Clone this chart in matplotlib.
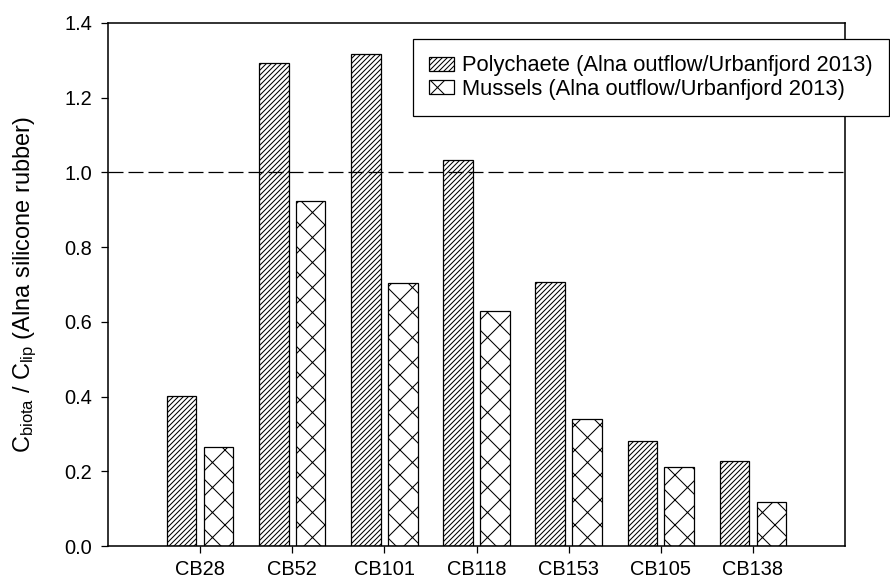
import numpy as np
import matplotlib
matplotlib.use("Agg")
import matplotlib.pyplot as plt

plt.rcParams["font.family"] = ["Liberation Sans", "DejaVu Sans"]
plt.rcParams["mathtext.default"] = "regular"
plt.rcParams["hatch.linewidth"] = 0.5

congeners = ["CB28", "CB52", "CB101", "CB118", "CB153", "CB105", "CB138"]
polychaete = [0.401, 1.292, 1.318, 1.033, 0.708, 0.281, 0.228]
mussels = [0.265, 0.924, 0.705, 0.630, 0.341, 0.211, 0.119]

lab_poly = "Polychaete (Alna outflow/Urbanfjord 2013)"
lab_mus = "Mussels (Alna outflow/Urbanfjord 2013)"

fig = plt.figure(figsize=(890 / 150, 583 / 150), dpi=150)
ax = fig.add_axes([108 / 890, 1 - 546 / 583, (845 - 108) / 890, (546 - 23) / 583])

x = np.arange(len(congeners))
w = 0.32
ax.bar(x - 0.2, polychaete, w, facecolor="white", edgecolor="black",
       linewidth=0.6, hatch="//////////", label=lab_poly)
ax.bar(x + 0.2, mussels, w, facecolor="white", edgecolor="black",
       linewidth=0.6, hatch="xx", label=lab_mus)

ax.axhline(1.0, color="black", linewidth=0.6, linestyle=(0, (12, 4)))

ax.set_xlim(-1, 7)
ax.set_ylim(0, 1.4)
ax.set_xticks(x)
ax.set_xticklabels(congeners)
yt = np.arange(0, 1.41, 0.2)
ax.set_yticks(yt)
ax.set_yticklabels([f"{v:.1f}" for v in yt])
ax.tick_params(axis="both", direction="out", length=3.5, width=0.6,
               labelsize=9.6, top=False, right=False)
ax.tick_params(axis="x", pad=3.2)
ax.tick_params(axis="y", pad=4)
for s in ax.spines.values():
    s.set_linewidth(0.75)

ax.set_ylabel("C$_{biota}$ / C$_{lip}$ (Alna silicone rubber)", fontsize=11.3, labelpad=12)

leg = ax.legend(loc="upper right", bbox_to_anchor=(889 / 890, 1 - 39 / 583),
                bbox_transform=fig.transFigure, borderaxespad=0, fontsize=10.5,
                frameon=True, fancybox=False, edgecolor="black", framealpha=1,
                handlelength=1.15, handleheight=0.6, handletextpad=0.35,
                labelspacing=0.1, borderpad=0.75)
leg.get_frame().set_linewidth(0.6)

fig.savefig("out.png", dpi=150)
